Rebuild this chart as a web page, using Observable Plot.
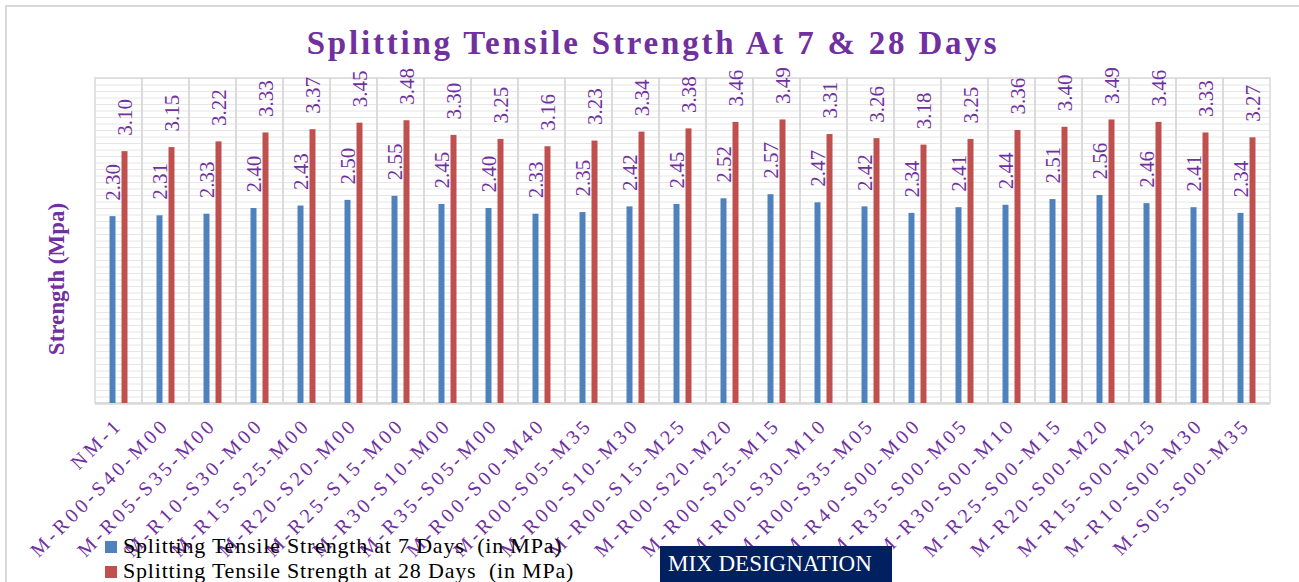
<!DOCTYPE html>
<html>
<head>
<meta charset="utf-8">
<script src="https://cdn.jsdelivr.net/npm/d3@7"></script>
<script src="https://cdn.jsdelivr.net/npm/@observablehq/plot@0.6"></script>
<style>
  html, body { margin: 0; padding: 0; background: #fff; }
  #wrap { position: relative; width: 1299px; height: 582px; overflow: hidden; font-family: "Liberation Serif", "Times New Roman", serif; }
  #frame { position: absolute; left: 5px; top: 5px; width: 1400px; height: 700px; border-left: 2px solid #d9d9d9; border-top: 2px solid #d9d9d9; }
  #title { position: absolute; left: 0; width: 1306px; top: 25px; text-align: center; font-size: 33px; font-weight: bold; letter-spacing: 2.8px; color: #7030a0; white-space: nowrap; }
  #ylabel { position: absolute; left: 57px; top: 279px; transform: translate(-50%, -50%) rotate(-90deg); font-size: 23px; font-weight: bold; color: #7030a0; white-space: nowrap; }
  #chart { position: absolute; left: 0; top: 0; }
  #chart g[aria-label="x-axis tick label"] text { letter-spacing: 3.6px; }
  .legend { position: absolute; left: 105px; font-size: 22px; letter-spacing: 0.8px; color: #000; white-space: nowrap; line-height: 25px; }
  .legend .sw { display: inline-block; width: 12px; height: 12px; margin-right: 6px; vertical-align: 0px; }
  #mix { position: absolute; left: 660px; top: 546px; width: 232px; height: 50px; background: #002060; color: #fff; font-size: 23px; padding-left: 8px; box-sizing: border-box; line-height: 36px; white-space: nowrap; }
</style>
</head>
<body>
<div id="wrap">
  <div id="frame"></div>
  <div id="chart"></div>
  <div id="title">Splitting Tensile Strength At 7 &amp; 28 Days</div>
  <div id="ylabel">Strength (Mpa)</div>
  <div class="legend" style="top:533px"><span class="sw" style="background:#4f81bd"></span>Splitting Tensile Strength at 7 Days&nbsp; (in MPa)</div>
  <div class="legend" style="top:558px"><span class="sw" style="background:#c0504d"></span>Splitting Tensile Strength at 28 Days&nbsp; (in MPa)</div>
  <div id="mix">MIX DESIGNATION</div>
</div>
<script>
const categories = [
  "NM-1", "M-R00-S40-M00", "M-R05-S35-M00", "M-R10-S30-M00", "M-R15-S25-M00",
  "M-R20-S20-M00", "M-R25-S15-M00", "M-R30-S10-M00", "M-R35-S05-M00", "M-R00-S00-M40",
  "M-R00-S05-M35", "M-R00-S10-M30", "M-R00-S15-M25", "M-R00-S20-M20", "M-R00-S25-M15",
  "M-R00-S30-M10", "M-R00-S35-M05", "M-R40-S00-M00", "M-R35-S00-M05", "M-R30-S00-M10",
  "M-R25-S00-M15", "M-R20-S00-M20", "M-R15-S00-M25", "M-R10-S00-M30", "M-S05-S00-M35"
];
const strength7 = [2.30, 2.31, 2.33, 2.40, 2.43, 2.50, 2.55, 2.45, 2.40, 2.33, 2.35, 2.42, 2.45, 2.52, 2.57, 2.47, 2.42, 2.34, 2.41, 2.44, 2.51, 2.56, 2.46, 2.41, 2.34];
const strength28 = [3.10, 3.15, 3.22, 3.33, 3.37, 3.45, 3.48, 3.30, 3.25, 3.16, 3.23, 3.34, 3.38, 3.46, 3.49, 3.31, 3.26, 3.18, 3.25, 3.36, 3.40, 3.49, 3.46, 3.33, 3.27];
const yMax = 4;
const gridStep = 0.08;
const gridValues = d3.range(0, Math.round(yMax / gridStep) + 1).map(i => +(i * gridStep).toFixed(2));

const rows7 = categories.map((c, i) => ({mix: c, value: strength7[i]}));
const rows28 = categories.map((c, i) => ({mix: c, value: strength28[i]}));

const purple = "#7030a0";
const serif = "Liberation Serif, Times New Roman, serif";

const chart = Plot.plot({
  width: 1299,
  height: 582,
  marginLeft: 95,
  marginRight: 29,
  marginTop: 78,
  marginBottom: 179,
  style: {fontFamily: serif, background: "transparent"},
  x: {domain: categories, padding: 0, label: null},
  y: {domain: [0, yMax], axis: null},
  marks: [
    Plot.ruleY(gridValues, {y: d => d, stroke: "#e6e6e6", strokeWidth: 1}),
    Plot.barY(categories, {x: d => d, y1: 0, y2: yMax, fill: "none", stroke: "#d9d9d9", strokeWidth: 1.5}),
    Plot.ruleY([0], {stroke: "#d9d9d9", strokeWidth: 2.5}),
    Plot.barY(rows7, {x: "mix", y: "value", fill: "#4f81bd", insetLeft: 14.5, insetRight: 26.5}),
    Plot.barY(rows28, {x: "mix", y: "value", fill: "#c0504d", insetLeft: 26.5, insetRight: 14.5}),
    Plot.text(rows7, {x: "mix", y: "value", text: d => d.value.toFixed(2), rotate: -90, textAnchor: "start", lineAnchor: "middle", dx: -6, dy: -16, fill: purple, fontSize: 21}),
    Plot.text(rows28, {x: "mix", y: "value", text: d => d.value.toFixed(2), rotate: -90, textAnchor: "start", lineAnchor: "middle", dx: 6, dy: -16, fill: purple, fontSize: 21}),
    Plot.axisX({tickRotate: -45, tickSize: 0, tickPadding: 18, fill: purple, fontSize: 20, label: null})
  ]
});
document.getElementById("chart").appendChild(chart);
</script>
</body>
</html>
